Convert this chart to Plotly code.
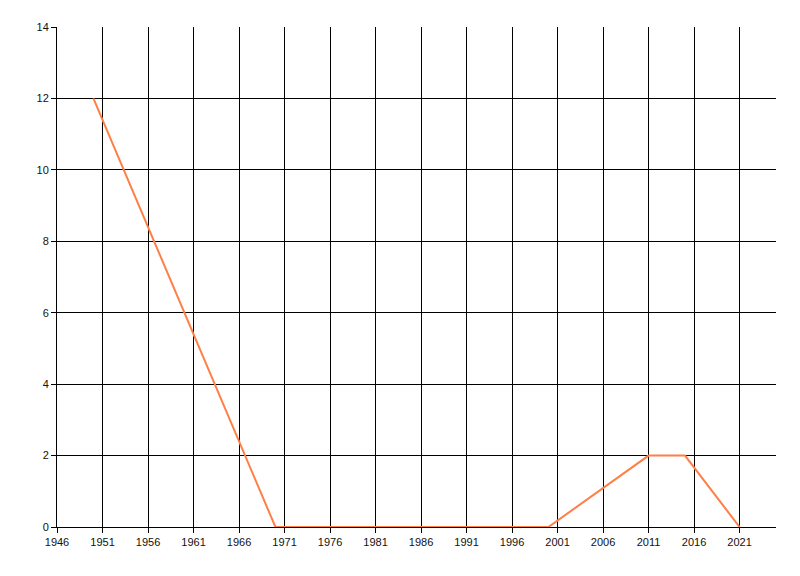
import plotly.graph_objects as go

years = [1950, 1970, 1990, 2000, 2011, 2015, 2021]
values = [12, 0, 0, 0, 2, 2, 0]
x_ticks = list(range(1946, 2025, 5))
y_ticks = list(range(0, 15, 2))

fig = go.Figure()
fig.add_trace(go.Scatter(
    x=years, y=values, mode="lines",
    line=dict(color="#FF7F45", width=2),
    hoverinfo="x+y", showlegend=False,
))

font = dict(family="Liberation Sans, Arial, sans-serif", size=11, color="#111111")
fig.update_layout(
    width=800, height=576,
    margin=dict(l=49, r=32, t=19, b=57),
    paper_bgcolor="white", plot_bgcolor="white",
    font=font,
    xaxis=dict(
        range=[1946, 2025], tickmode="array", tickvals=x_ticks,
        ticktext=[str(v) for v in x_ticks],
        showgrid=True, gridcolor="black", gridwidth=1,
        showline=True, linecolor="black", linewidth=1,
        ticks="outside", ticklen=5, tickcolor="black",
        zeroline=False, tickfont=font,
    ),
    yaxis=dict(
        range=[0, 14], tickmode="array", tickvals=y_ticks,
        showgrid=True, gridcolor="black", gridwidth=1,
        showline=True, linecolor="black", linewidth=1,
        ticks="outside", ticklen=5, tickcolor="black",
        zeroline=True, zerolinecolor="black", zerolinewidth=1,
        tickfont=font,
    ),
)

fig.write_html("out.html")
